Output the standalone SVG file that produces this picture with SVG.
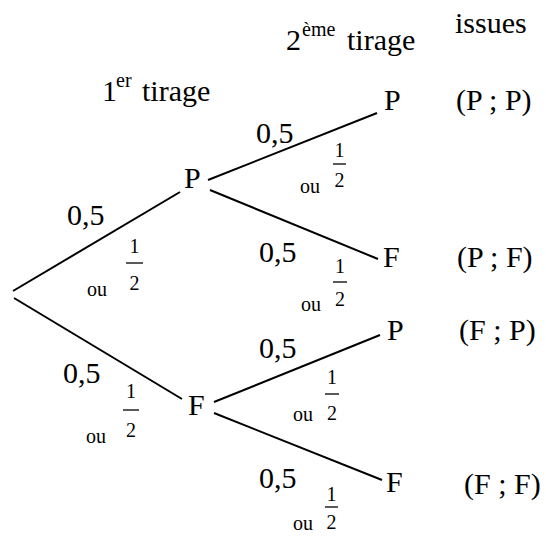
<svg xmlns="http://www.w3.org/2000/svg" width="546" height="537" viewBox="0 0 546 537">
<style>
text{font-family:"Liberation Serif","Times New Roman",serif;fill:#000}
.big{font-size:30px}
.sup{font-size:20px}
.ou{font-size:20px}
.d{font-size:20px;text-anchor:middle}
.edge{stroke:#000;stroke-width:2;fill:none}
.bar{stroke:#000;stroke-width:1.3}
</style>
<rect width="546" height="537" fill="#fff"/>
<g id="headers">
<text class="big" x="455" y="33">issues</text>
<text class="big" x="286" y="50">2</text><text class="sup" x="302" y="36">ème</text><text class="big" x="347" y="50">tirage</text>
<text class="big" x="102" y="101">1</text><text class="sup" x="116" y="87">er</text><text class="big" x="142" y="101">tirage</text>
</g>
<g id="connectors">
<line class="edge" x1="13" y1="291" x2="180" y2="192"/>
<line class="edge" x1="14" y1="298" x2="182" y2="399"/>
<line class="edge" x1="208" y1="180" x2="377" y2="113"/>
<line class="edge" x1="210" y1="190" x2="378" y2="259"/>
<line class="edge" x1="214" y1="402" x2="380" y2="335"/>
<line class="edge" x1="214" y1="413" x2="382" y2="480"/>
</g>
<g id="node-P1"><text class="big" x="184" y="188">P</text></g>
<g id="node-F1"><text class="big" x="188" y="415">F</text></g>
<g id="node-PP"><text class="big" x="384" y="110">P</text></g>
<g id="node-PF"><text class="big" x="383" y="267">F</text></g>
<g id="node-FP"><text class="big" x="387" y="340">P</text></g>
<g id="node-FF"><text class="big" x="386" y="492">F</text></g>
<g id="outcomes">
<text class="big" x="456" y="110">(P ; P)</text>
<text class="big" x="457" y="267">(P ; F)</text>
<text class="big" x="459" y="340">(F ; P)</text>
<text class="big" x="464" y="494">(F ; F)</text>
</g>
<g id="edge-labels">
<g>
<text class="big" x="67" y="225">0,5</text>
<text class="d" x="134.5" y="253">1</text><line class="bar" x1="126" y1="263" x2="143" y2="263"/><text class="d" x="134.5" y="290">2</text>
<text class="ou" x="87" y="296">ou</text>
</g>
<g>
<text class="big" x="63" y="383">0,5</text>
<text class="d" x="131" y="398">1</text><line class="bar" x1="123" y1="410" x2="139" y2="410"/><text class="d" x="131" y="437">2</text>
<text class="ou" x="86" y="443">ou</text>
</g>
<g>
<text class="big" x="256" y="143">0,5</text>
<text class="d" x="339.5" y="157">1</text><line class="bar" x1="333" y1="164" x2="346" y2="164"/><text class="d" x="339.5" y="187">2</text>
<text class="ou" x="300" y="193">ou</text>
</g>
<g>
<text class="big" x="259" y="262">0,5</text>
<text class="d" x="340" y="273">1</text><line class="bar" x1="333" y1="282" x2="347" y2="282"/><text class="d" x="340" y="306">2</text>
<text class="ou" x="301" y="311">ou</text>
</g>
<g>
<text class="big" x="259" y="358">0,5</text>
<text class="d" x="332" y="384">1</text><line class="bar" x1="325" y1="394" x2="339" y2="394"/><text class="d" x="332" y="420">2</text>
<text class="ou" x="293" y="421">ou</text>
</g>
<g>
<text class="big" x="259" y="488">0,5</text>
<text class="d" x="331.5" y="501">1</text><line class="bar" x1="325" y1="507" x2="338" y2="507"/><text class="d" x="331.5" y="529">2</text>
<text class="ou" x="293" y="530">ou</text>
</g>
</g>
</svg>
